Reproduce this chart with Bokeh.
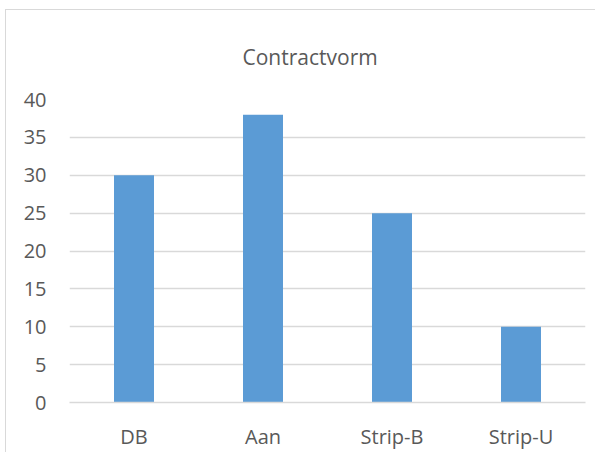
from bokeh.plotting import figure
from bokeh.models import Range1d, FixedTicker
from bokeh.embed import file_html
from bokeh.resources import INLINE

categories = ["DB", "Aan", "Strip-B", "Strip-U"]
values = [30, 38, 25, 10]
y_ticks = [0, 5, 10, 15, 20, 25, 30, 35, 40]
title_text = "Contractvorm"

FONT = "Open Sans"
TXT = "#595959"
GRID = "#D9D9D9"
BAR = "#5B9BD5"

p = figure(
    x_range=categories,
    y_range=Range1d(0, 40),
    frame_width=516,
    frame_height=303,
    output_backend="svg",
    toolbar_location=None,
    min_border_left=63,
    min_border_right=10,
    min_border_top=89,
    min_border_bottom=48,
)
p.margin = (9, 0, 0, 5)
p.styles = {"border-top": "1.5px solid #D9D9D9", "border-left": "1.5px solid #D9D9D9"}

p.vbar(x=categories, top=values, width=0.31, color=BAR, line_color=None)

p.outline_line_color = None
p.background_fill_color = "white"
p.border_fill_color = "white"

p.xgrid.grid_line_color = None
p.ygrid.grid_line_color = GRID
p.ygrid.grid_line_width = 1.5
p.yaxis.ticker = FixedTicker(ticks=y_ticks)

for ax in (p.xaxis[0], p.yaxis[0]):
    ax.major_label_text_font = FONT
    ax.major_label_text_font_size = "20px"
    ax.major_label_text_color = TXT
    ax.major_tick_line_color = None
    ax.minor_tick_line_color = None

p.yaxis.major_label_standoff = 17
p.yaxis.axis_line_color = None
p.xaxis.axis_line_color = GRID
p.xaxis.axis_line_width = 1.5
p.xaxis.major_label_standoff = 14

p.title.text = title_text
p.title.text_font = FONT
p.title.text_font_size = "21px"
p.title.text_font_style = "normal"
p.title.text_color = TXT
p.title.align = "left"
p.title.offset = 173
p.title.standoff = 57

open("out.html", "w").write(file_html(p, INLINE))
